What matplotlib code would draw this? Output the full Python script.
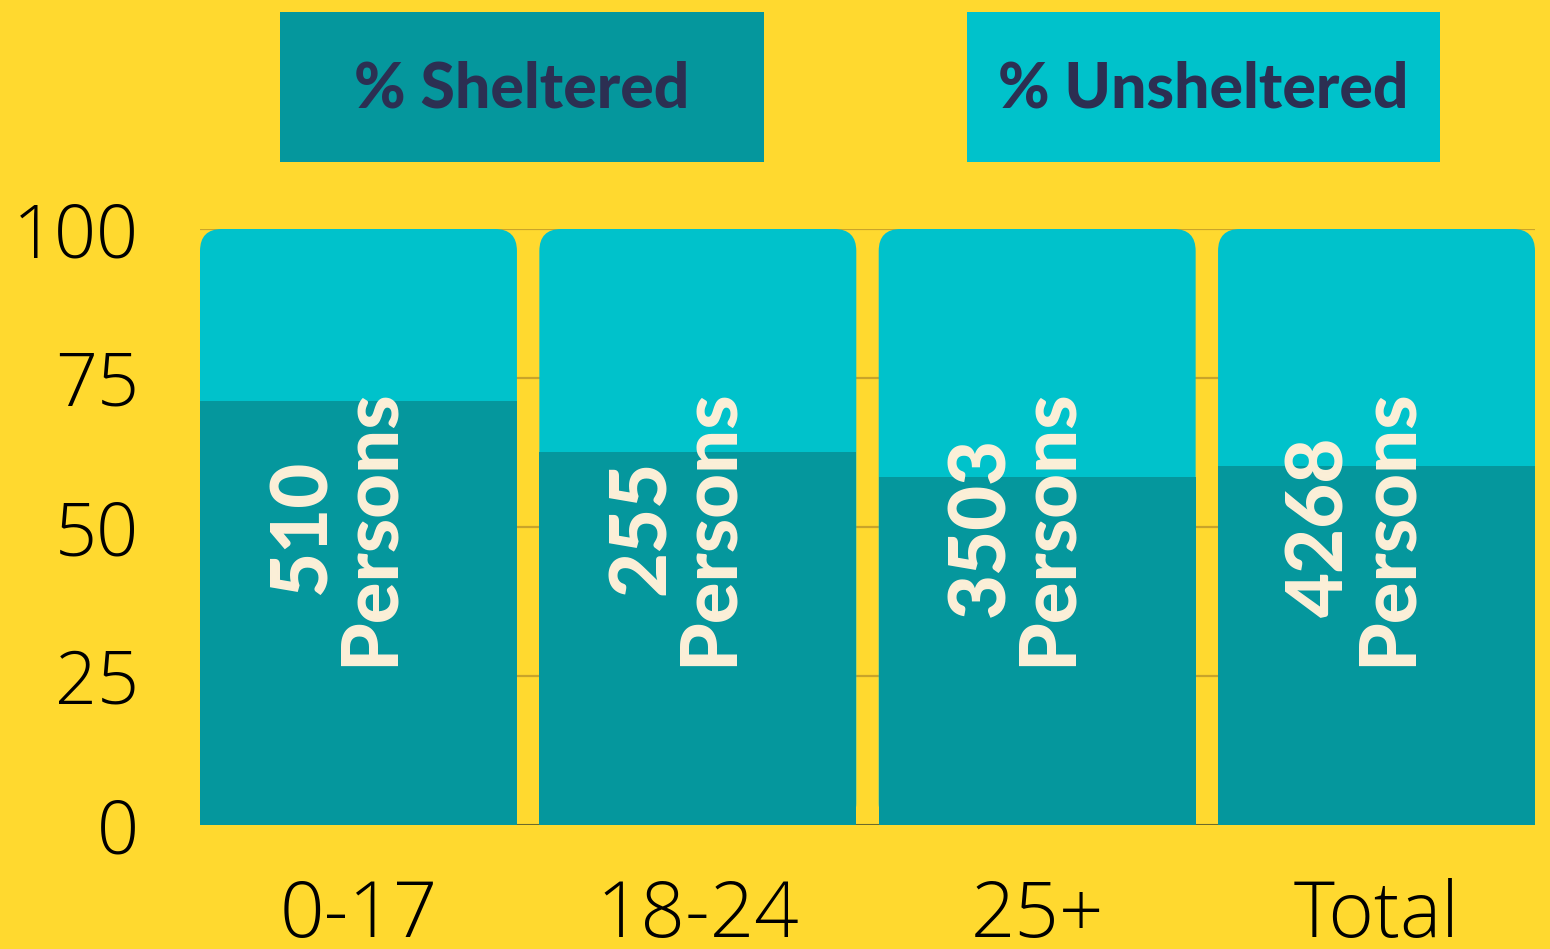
import matplotlib
matplotlib.use("Agg")
import matplotlib.pyplot as plt
from matplotlib.patches import FancyBboxPatch, Rectangle
from matplotlib.transforms import offset_copy
import numpy as np

categories = ["0-17", "18-24", "25+", "Total"]
sheltered = [71.1, 62.6, 58.4, 60.2]
unsheltered = [100 - s for s in sheltered]
persons = ["510", "255", "3503", "4268"]
yticks = [0, 25, 50, 75, 100]

BG = "#FFD92F"
C_SH = "#05979D"
C_UN = "#00C2CB"
GRID = "#C9A42A"
TXT = "#2C2F52"
CREAM = "#FDF0D8"

W, H, DPI = 15.5, 9.49, 100
fig = plt.figure(figsize=(W, H), dpi=DPI, facecolor=BG)
ax = fig.add_axes([200 / 1550, 1 - 825 / 949, 1335 / 1550, 596 / 949])
ax.set_facecolor(BG)

x = np.arange(len(categories))
width = 0.934
ax.set_xlim(-0.467, 3.467)
ax.set_ylim(0, 100)

for y in yticks[1:]:
    ax.axhline(y, color=GRID, lw=1.6, zorder=0)
ax.axhline(0, color="#6E6A2A", lw=1.5, zorder=0)

un_bars = ax.bar(x, unsheltered, width, bottom=sheltered, color=C_UN, zorder=2)
sh_bars = ax.bar(x, sheltered, width, color=C_SH, zorder=3)

# rounded tops for unsheltered bars
fig.canvas.draw()
px_per_x = ax.transData.transform((1, 0))[0] - ax.transData.transform((0, 0))[0]
px_per_y = ax.transData.transform((0, 1))[1] - ax.transData.transform((0, 0))[1]
aspect = px_per_x / px_per_y
r_px = 22
for p in un_bars:
    p.set_visible(False)
    x0 = p.get_x()
    w = p.get_width()
    top = p.get_y() + p.get_height()
    fb = FancyBboxPatch((x0, 0), w, top,
                        boxstyle=f"round,pad=0,rounding_size={r_px / px_per_x}",
                        mutation_aspect=aspect, facecolor=C_UN, edgecolor="none",
                        zorder=2)
    ax.add_patch(fb)

lbl_tr = offset_copy(ax.transData, fig=fig, x=-22, y=0, units="dots")
for xi, n in zip(x, persons):
    ax.text(xi, 50, f"{n}\nPersons", rotation=90, ha="center", va="center",
            multialignment="center", color=CREAM, fontsize=56,
            fontweight="black", family="Lato", linespacing=0.92, zorder=5,
            transform=lbl_tr)

for s in ax.spines.values():
    s.set_visible(False)
ax.set_yticks(yticks)
ax.set_yticklabels([str(v) for v in yticks], fontsize=53, family="Open Sans",
                   fontweight="light")
ax.set_xticks(x)
ax.set_xticklabels(categories, fontsize=56, family="Open Sans", fontweight="light")
ax.tick_params(axis="y", length=0, pad=44)
ax.tick_params(axis="x", length=0, pad=38)

# legend boxes
def legend_box(x0, x1, y0, y1, color, label):
    fig.patches.append(Rectangle((x0 / 1550, 1 - y1 / 949), (x1 - x0) / 1550,
                                 (y1 - y0) / 949, transform=fig.transFigure,
                                 facecolor=color, edgecolor="none"))
    fig.text((x0 + x1) / 2 / 1550, 1 - ((y0 + y1) / 2 + 3) / 949, label, ha="center",
             va="center", color=TXT, fontsize=45, fontweight="black",
             family="Lato")

legend_box(280, 764, 12, 162, C_SH, "% Sheltered")
legend_box(967, 1440, 12, 162, C_UN, "% Unsheltered")

fig.savefig("out.png", dpi=DPI, facecolor=BG)
